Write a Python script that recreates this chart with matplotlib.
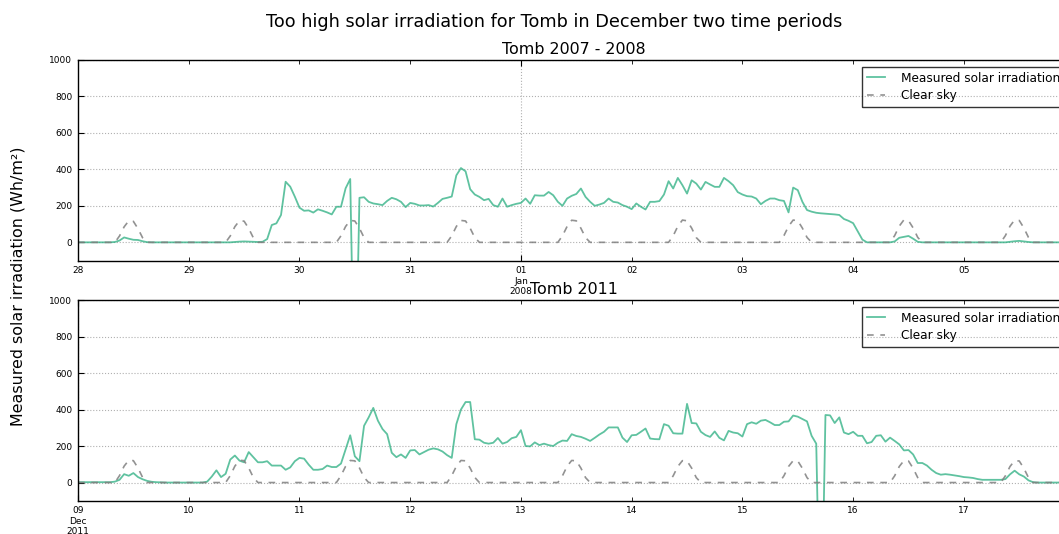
import pandas as pd
import matplotlib
matplotlib.use('Agg')
import matplotlib.pyplot as plt

# Measured solar irradiation, hourly, Tomb 28 Dec 2007 - 05 Jan 2008 (Wh/m2)
dec28 = [0, 0, 0, 0, 0, 0, 0, 0, 2, 10, 27, 20, 14, 13, 6, 1, 0, 0, 0, 0, 0, 0, 0, 0]
dec29 = [0, 0, 0, 0, 0, 0, 0, 0, 0, 0, 2, 4, 5, 4, 3, 2, 3, 18, 95, 104, 150, 332, 305, 250]
dec30 = [190, 173, 175, 163, 181, 173, 164, 153, 195, 195, 296, 347, -999, 244, 247, 222, 213, 209, 204, 227, 244, 236, 222, 193]
dec31 = [216, 211, 202, 202, 204, 196, 216, 238, 244, 251, 367, 407, 389, 291, 262, 249, 231, 238, 204, 195, 240, 195, 204, 211]
jan01 = [216, 240, 211, 258, 256, 256, 276, 258, 222, 200, 240, 255, 265, 295, 249, 222, 200, 207, 216, 240, 222, 218, 204, 195]
jan02 = [182, 213, 195, 180, 222, 222, 226, 262, 335, 295, 353, 313, 267, 340, 322, 289, 331, 317, 304, 304, 353, 335, 313, 275]
jan03 = [262, 253, 251, 240, 209, 227, 240, 240, 231, 227, 164, 300, 286, 222, 177, 168, 162, 159, 157, 155, 153, 150, 128, 118]
jan04 = [105, 60, 15, 0, 0, 0, 0, 0, 0, 5, 25, 30, 35, 20, 3, 0, 0, 0, 0, 0, 0, 0, 0, 0]
jan05 = [0, 0, 0, 0, 0, 0, 0, 0, 0, 0, 3, 6, 8, 5, 2, 0, 0, 0, 0, 0, 0, 0, 0, 0]

# Measured solar irradiation, hourly, Tomb 09 Dec - 17 Dec 2011
dec09 = [2, 2, 2, 2, 2, 2, 2, 2, 5, 15, 46, 37, 52, 30, 18, 9, 4, 2, 1, 0, 0, 0, 0, 0]
dec10 = [0, 0, 0, 0, 5, 33, 67, 30, 48, 126, 148, 120, 111, 167, 139, 111, 111, 117, 93, 93, 93, 70, 83, 117]
dec11 = [135, 131, 98, 70, 70, 74, 93, 85, 85, 104, 181, 259, 144, 117, 311, 357, 409, 339, 293, 265, 163, 139, 154, 135]
dec12 = [176, 178, 154, 167, 180, 187, 182, 170, 150, 135, 320, 400, 441, 441, 237, 235, 218, 213, 218, 244, 213, 222, 243, 250]
dec13 = [287, 200, 198, 220, 205, 213, 205, 200, 218, 230, 228, 265, 255, 250, 240, 228, 245, 263, 278, 302, 302, 302, 246, 222]
dec14 = [259, 261, 278, 296, 241, 238, 237, 320, 311, 270, 268, 268, 431, 326, 324, 278, 260, 250, 280, 245, 231, 283, 274, 270]
dec15 = [252, 320, 330, 322, 339, 343, 330, 315, 315, 333, 335, 367, 361, 348, 335, 256, 213, -999, 370, 368, 326, 357, 274, 265]
dec16 = [278, 256, 256, 215, 222, 256, 259, 224, 246, 228, 209, 176, 178, 154, 107, 107, 93, 70, 52, 43, 46, 43, 39, 35]
dec17 = [30, 28, 25, 19, 15, 15, 15, 15, 15, 19, 45, 65, 45, 33, 12, 2, 0, 0, 0, 0, 0, 0, 0, 0]

# Clear sky irradiation, one row per day
clear_2007 = [
    [0, 0, 0, 0, 0, 0, 0, 0, 0, 35, 85, 118, 115, 75, 25, 0, 0, 0, 0, 0, 0, 0, 0, 0],
    [0, 0, 0, 0, 0, 0, 0, 0, 0, 35, 86, 119, 116, 76, 25, 0, 0, 0, 0, 0, 0, 0, 0, 0],
    [0, 0, 0, 0, 0, 0, 0, 0, 0, 36, 87, 120, 117, 77, 26, 0, 0, 0, 0, 0, 0, 0, 0, 0],
    [0, 0, 0, 0, 0, 0, 0, 0, 0, 36, 87, 120, 117, 77, 26, 0, 0, 0, 0, 0, 0, 0, 0, 0],
    [0, 0, 0, 0, 0, 0, 0, 0, 0, 36, 87, 121, 118, 77, 26, 0, 0, 0, 0, 0, 0, 0, 0, 0],
    [0, 0, 0, 0, 0, 0, 0, 0, 0, 36, 88, 122, 118, 78, 26, 0, 0, 0, 0, 0, 0, 0, 0, 0],
    [0, 0, 0, 0, 0, 0, 0, 0, 0, 37, 88, 122, 119, 78, 27, 0, 0, 0, 0, 0, 0, 0, 0, 0],
    [0, 0, 0, 0, 0, 0, 0, 0, 0, 37, 89, 123, 119, 79, 27, 0, 0, 0, 0, 0, 0, 0, 0, 0],
    [0, 0, 0, 0, 0, 0, 0, 0, 0, 37, 89, 123, 120, 79, 27, 0, 0, 0, 0, 0, 0, 0, 0, 0],
]
clear_2011 = [
    [0, 0, 0, 0, 0, 0, 0, 0, 0, 38, 90, 122, 120, 80, 28, 0, 0, 0, 0, 0, 0, 0, 0, 0],
    [0, 0, 0, 0, 0, 0, 0, 0, 0, 38, 90, 122, 120, 80, 28, 0, 0, 0, 0, 0, 0, 0, 0, 0],
    [0, 0, 0, 0, 0, 0, 0, 0, 0, 38, 89, 121, 119, 80, 28, 0, 0, 0, 0, 0, 0, 0, 0, 0],
    [0, 0, 0, 0, 0, 0, 0, 0, 0, 38, 89, 121, 119, 79, 28, 0, 0, 0, 0, 0, 0, 0, 0, 0],
    [0, 0, 0, 0, 0, 0, 0, 0, 0, 37, 89, 121, 119, 79, 27, 0, 0, 0, 0, 0, 0, 0, 0, 0],
    [0, 0, 0, 0, 0, 0, 0, 0, 0, 37, 88, 120, 118, 79, 27, 0, 0, 0, 0, 0, 0, 0, 0, 0],
    [0, 0, 0, 0, 0, 0, 0, 0, 0, 37, 88, 120, 118, 78, 27, 0, 0, 0, 0, 0, 0, 0, 0, 0],
    [0, 0, 0, 0, 0, 0, 0, 0, 0, 37, 88, 120, 118, 78, 27, 0, 0, 0, 0, 0, 0, 0, 0, 0],
    [0, 0, 0, 0, 0, 0, 0, 0, 0, 37, 88, 120, 118, 78, 27, 0, 0, 0, 0, 0, 0, 0, 0, 0],
]

measured_2007 = dec28 + dec29 + dec30 + dec31 + jan01 + jan02 + jan03 + jan04 + jan05
measured_2011 = dec09 + dec10 + dec11 + dec12 + dec13 + dec14 + dec15 + dec16 + dec17

# tick labels
days_2007 = ['28', '29', '30', '31', '01\nJan\n2008', '02', '03', '04', '05']
days_2011 = ['09\nDec\n2011', '10', '11', '12', '13', '14', '15', '16', '17']

panels = [
    ('Tomb 2007 - 2008', '2007-12-28', measured_2007, clear_2007, days_2007, 4),
    ('Tomb 2011', '2011-12-09', measured_2011, clear_2011, days_2011, 0),
]

GREEN = '#2aae80'
GREY = '#7f7f7f'

fig = plt.figure(figsize=(10.59, 5.34), dpi=100)
fig.patch.set_facecolor('white')

W, H = 1059.0, 534.0
ax_left = 78 / W
ax_width = (1070 - 78) / W
ax_height = 200.8 / H
ax_bottoms = [1 - 260.6 / H, 1 - 500.8 / H]
legend_tops = [1 - 66.7 / H, 1 - 306.7 / H]

for k, (title, start, measured, clear, labels, major_idx) in enumerate(panels):
    ax = fig.add_axes([ax_left, ax_bottoms[k], ax_width, ax_height])
    times = pd.date_range(start, periods=len(measured), freq='h')
    clear_flat = [v for day in clear for v in day]

    ax.plot(times, measured, color=GREEN, lw=1.3, alpha=0.75,
            label='Measured solar irradiation')
    ax.plot(times, clear_flat, color=GREY, lw=1.2, alpha=0.85,
            dashes=(4, 4), label='Clear sky')

    ax.set_xlim(times[0], times[-1])
    ax.set_ylim(-100, 1000)
    ax.set_yticks([0, 200, 400, 600, 800, 1000])

    day_ticks = pd.date_range(start, periods=len(labels), freq='D')
    ax.set_xticks([day_ticks[major_idx]], labels=[labels[major_idx]])
    minor = [d for i, d in enumerate(day_ticks) if i != major_idx]
    minor_lab = [l for i, l in enumerate(labels) if i != major_idx]
    ax.set_xticks(minor, labels=minor_lab, minor=True)

    ax.tick_params(which='both', direction='in', top=True, right=True,
                   labelsize=6.5, pad=4)
    ax.tick_params(which='major', length=4)
    ax.tick_params(which='minor', length=3)

    ax.grid(axis='y', which='major', linestyle=':', color='#b0b0b0', lw=0.8)
    ax.grid(axis='x', which='major', linestyle=':', color='#b0b0b0', lw=0.8)
    for s in ax.spines.values():
        s.set_linewidth(1.0)
        s.set_color('black')

    ax.set_title(title, fontsize=11.4, pad=4)

    leg = ax.legend(loc='upper left', bbox_to_anchor=(862 / W, legend_tops[k]),
                    bbox_transform=fig.transFigure, borderaxespad=0,
                    fontsize=8.7, fancybox=False, facecolor='none',
                    edgecolor='black', handlelength=1.5, handletextpad=1.3,
                    borderpad=0.4, labelspacing=0.4)
    leg.get_frame().set_linewidth(1.0)

fig.text(554.5 / W, 1 - 22 / H,
         'Too high solar irradiation for Tomb in December two time periods',
         ha='center', va='center', fontsize=12.7)
fig.text(18 / W, 1 - 286 / H, 'Measured solar irradiation (Wh/m²)',
         rotation=90, ha='center', va='center', fontsize=11.4)

fig.savefig('out.png', dpi=100)
